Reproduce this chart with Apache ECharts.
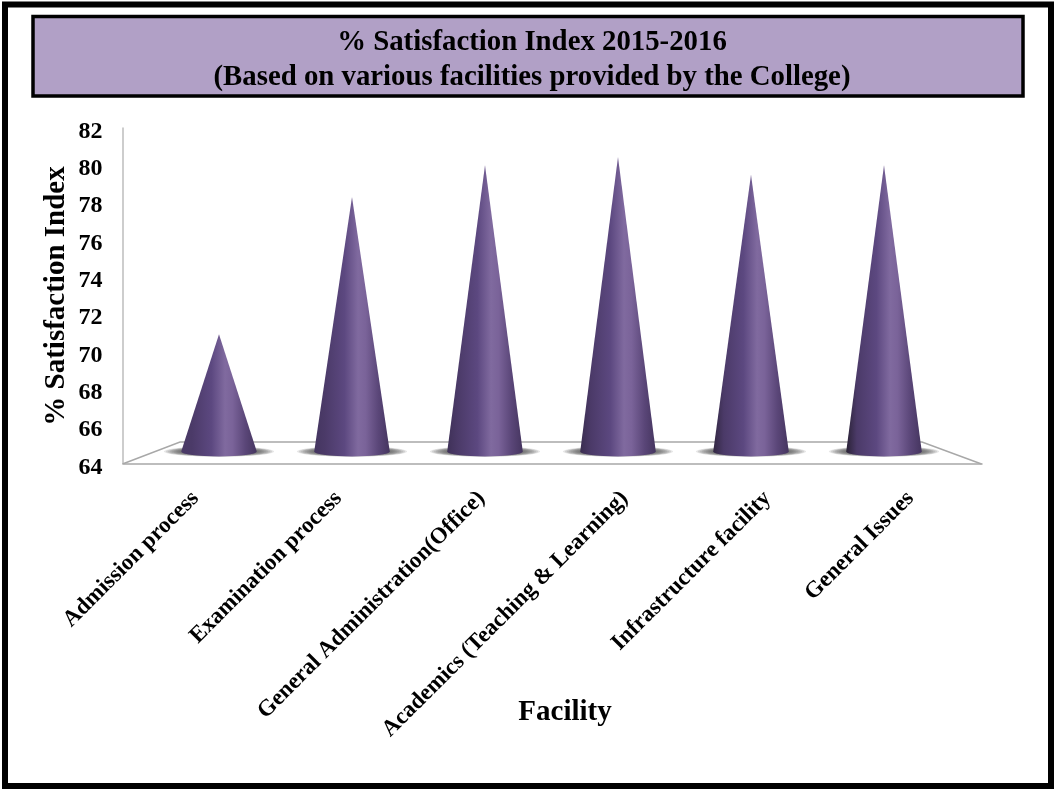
<!DOCTYPE html>
<html><head><meta charset="utf-8">
<style>html,body{margin:0;padding:0;background:#fff}#c{width:1054px;height:789px}</style>
<script src="https://cdn.jsdelivr.net/npm/echarts@6/dist/echarts.min.js"></script></head>
<body><div id="c"></div>
<script>
const categories = ["Admission process","Examination process","General Administration(Office)","Academics (Teaching & Learning)","Infrastructure facility","General Issues"];
const satisfaction = [70.95, 78.3, 80.0, 80.45, 79.5, 80.0];
const FONT = '"Liberation Serif","Times New Roman",serif';
const chart = echarts.init(document.getElementById('c'), null, {renderer:'canvas'});
const leftEdge = ['#4a3a66','#443560','#3f3158','#3a2d50','#322742','#2a2236'];
function coneFill(i){
  return new echarts.graphic.LinearGradient(0,0,1,0,[
    {offset:0,color:leftEdge[i]},{offset:0.14,color:'#4b3a68'},{offset:0.4,color:'#5c4880'},
    {offset:0.58,color:'#806a9f'},{offset:0.68,color:'#7a6399'},{offset:0.85,color:'#5a4678'},{offset:1,color:'#45355f'}]);
}
function shadowLayers(x,by,r){
  const layers=[];
  for(let k=0;k<10;k++){
    const t=k/9;
    layers.push({type:'ellipse',shape:{cx:x,cy:by,rx:r*(1.46-0.46*t),ry:5.2-1.5*t},style:{fill:'rgba(70,70,70,0.13)'}});
  }
  return layers;
}
chart.setOption({
  animation:false,
  backgroundColor:'#fff',
  title:{text:'% Satisfaction Index 2015-2016\n(Based on various facilities provided by the College)',left:527,top:20,textAlign:'center',
    textStyle:{fontFamily:FONT,fontWeight:'bold',fontSize:28.8,color:'#000',lineHeight:35}},
  graphic:[
    {type:'rect',z:-10,shape:{x:5,y:4.5,width:1046,height:781.5},style:{fill:'none',stroke:'#000',lineWidth:6}},
    {type:'rect',z:-9,shape:{x:33,y:16.5,width:990,height:79.5},style:{fill:'#b1a0c6',stroke:'#000',lineWidth:3.5}}
  ],
  grid:[
    {left:152.5,top:128,width:798,height:336},
    {left:124,top:128,width:858,height:336}
  ],
  xAxis:[
    {type:'category',gridIndex:0,data:categories,show:false},
    {type:'category',gridIndex:1,data:categories,boundaryGap:true,
     axisLine:{show:true,lineStyle:{color:'#a8a8a8',width:1.5}},axisTick:{show:false},splitLine:{show:false},
     axisLabel:{interval:0,rotate:45,margin:31,fontFamily:FONT,fontWeight:'bold',fontSize:23,color:'#000',hideOverlap:false},
     name:'Facility',nameLocation:'middle',nameGap:234,nameMoveOverlap:false,
     nameTextStyle:{fontFamily:FONT,fontWeight:'bold',fontSize:29,color:'#000',padding:[0,0,0,24]}}
  ],
  yAxis:[
    {type:'value',gridIndex:0,min:64,max:82,interval:2,offset:30,
     axisLine:{show:true,onZero:false,lineStyle:{color:'#bdbdbd',width:1.5}},axisTick:{show:false},splitLine:{show:false},
     axisLabel:{margin:20,formatter:'{v|{value}}',
       rich:{v:{fontFamily:FONT,fontWeight:'bold',fontSize:24,color:'#000',padding:[7,0,0,0]}}},
     name:'% Satisfaction Index',nameLocation:'middle',nameGap:51,nameMoveOverlap:false,
     nameTextStyle:{fontFamily:FONT,fontWeight:'bold',fontSize:29,color:'#000'}},
    {type:'value',gridIndex:1,min:64,max:82,interval:2,show:false}
  ],
  series:[
    {type:'custom',silent:true,z:1,data:[0],clip:false,xAxisIndex:0,yAxisIndex:0,
     renderItem:function(params,api){
       const c=params.coordSys, L=c.x, R=c.x+c.width, B=c.y+c.height;
       const pts=[[L-30,B],[L+27.5,B-22],[R-28.5,B-22],[R+31,B]];
       return {type:'polyline',shape:{points:pts},style:{fill:'none',stroke:'#a8a8a8',lineWidth:1.5}};
     }},
    {type:'custom',silent:true,z:2,clip:false,xAxisIndex:0,yAxisIndex:0,
     encode:{x:0,y:1},
     data:satisfaction.map((v,i)=>[i,v]),
     renderItem:function(params,api){
       const tip=api.coord([api.value(0),api.value(1)]);
       const base=api.coord([api.value(0),64]);
       const r=api.size([1,0])[0]*0.284, by=base[1]-12.5, ry=5;
       const x=tip[0];
       return {type:'group',children:shadowLayers(x,by,r).concat([
         {type:'path',
          shape:{pathData:`M${x},${tip[1]}L${x+r},${by}A${r},${ry} 0 0 1 ${x-r},${by}Z`,
                 x:x-r,y:tip[1],width:2*r,height:by+ry-tip[1]},
          style:{fill:coneFill(params.dataIndex)}}
       ])};
     }}
  ]
});
</script></body></html>
